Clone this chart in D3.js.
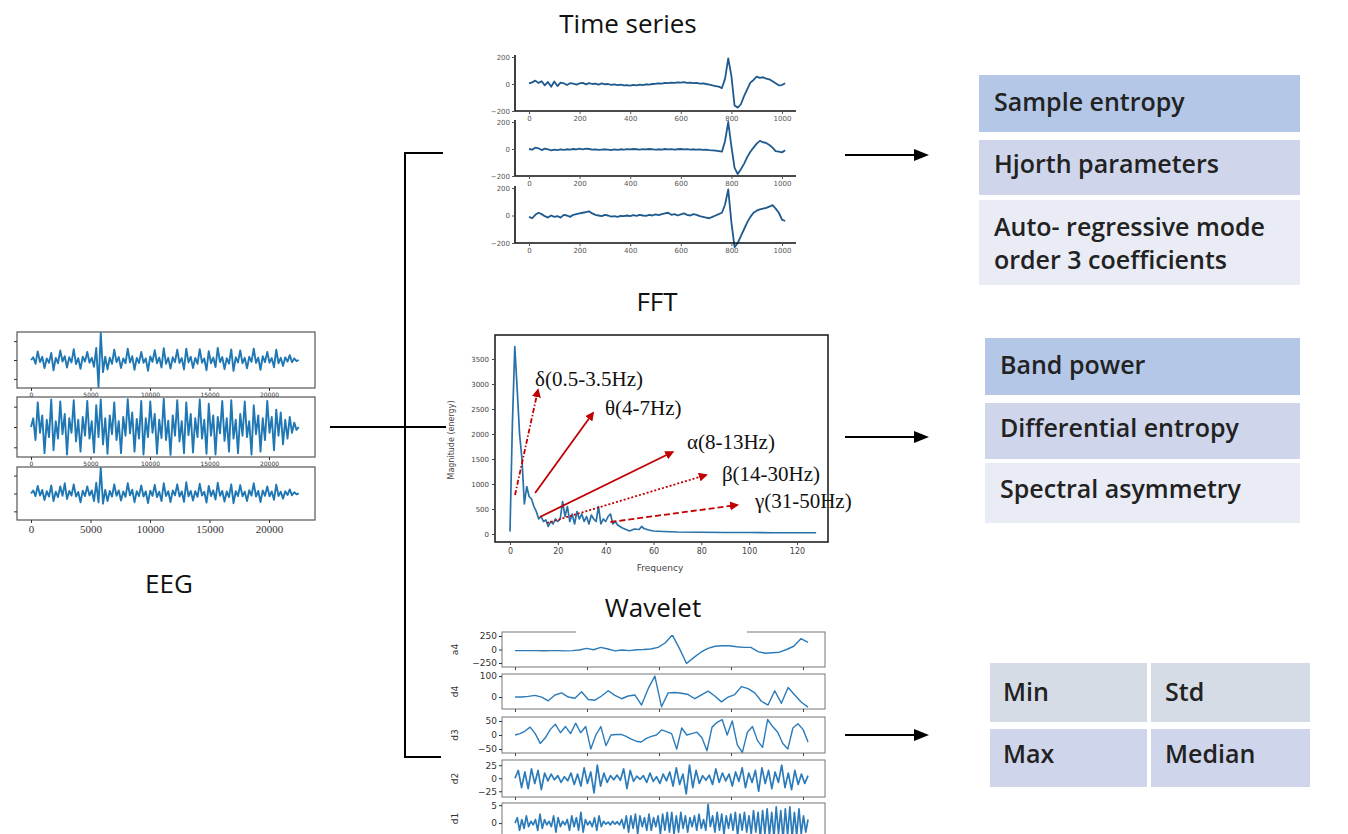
<!DOCTYPE html>
<html>
<head>
<meta charset="utf-8">
<script src="https://d3js.org/d3.v7.min.js"></script>
<style>
  body { margin: 0; background: #fff; }
  text { font-family: "Open Sans", sans-serif; }
</style>
</head>
<body>
<div id="chart"></div>
<script>
// ---------- data ----------

// raw EEG, three channels (arbitrary units, +-100)
let eeg1 = [0, 10, -14, 32, -8, 12, -30, 6, -10, 26,
  -38, 8, -12, 35, -6, 14, -28, 10, -9, 40,
  -15, 7, -33, 12, -6, 30, -10, 8, -25, 45,
  -100, 100, -45, 12, -35, 9, -14, 38, -8, 11,
  -30, 6, -12, 42, -9, 14, -36, 8, -11, 30,
  -10, 6, -40, 13, -7, 36, -12, 9, -28, 44,
  -14, 8, -32, 10, -8, 38, -11, 7, -35, 42,
  -9, 12, -30, 8, -14, 40, -10, 6, -38, 33,
  -12, 9, -26, 45, -8, 11, -34, 7, -13, 39,
  -40, 10, -9, 35, -12, 8, -31, 12, -7, 42,
  -11, 9, -36, 14, -8, 30, -10, 7, -27, 38,
  -12, 8, -22, 10, -6, 18, -8, 6, -4, 0];
let eeg2 = [0, 30, -45, 85, -20, 40, -90, 25, -35, 95,
  -80, 20, -40, 88, -25, 45, -95, 30, -20, 92,
  -50, 25, -85, 35, -30, 90, -40, 20, -88, 75,
  -35, 95, -60, 30, -92, 40, -25, 85, -45, 20,
  -90, 35, -30, 96, -22, 50, -85, 28, -40, 90,
  -95, 30, -35, 88, -20, 45, -92, 25, -38, 98,
  -45, 22, -96, 40, -30, 92, -50, 20, -90, 85,
  -28, 45, -88, 30, -35, 95, -40, 25, -92, 80,
  -30, 40, -95, 35, -22, 90, -48, 30, -85, 92,
  -40, 25, -90, 45, -30, 88, -35, 20, -95, 75,
  -25, 40, -85, 30, -45, 90, -20, 35, -80, 60,
  -30, 50, -60, 25, -40, 35, -20, 15, -10, 0];
let eeg3 = [0, 12, -10, 30, -8, 14, -26, 9, -12, 32,
  -30, 7, -14, 28, -9, 40, -22, 10, -8, 36,
  -12, 6, -35, 11, -10, 28, -8, 12, -30, 42,
  -35, 100, -40, 14, -30, 10, -12, 36, -9, 12,
  -28, 8, -13, 40, -7, 15, -34, 9, -10, 32,
  -12, 8, -38, 11, -9, 34, -14, 7, -30, 40,
  -10, 9, -34, 12, -7, 36, -12, 8, -33, 44,
  -11, 10, -28, 9, -13, 38, -8, 7, -36, 30,
  -10, 12, -24, 42, -9, 10, -32, 8, -14, 36,
  -38, 9, -10, 33, -11, 7, -30, 13, -8, 40,
  -12, 10, -34, 12, -9, 28, -11, 8, -25, 35,
  -10, 7, -20, 9, -6, 16, -7, 5, -3, 0];
let eegTicks = [0, 5000, 10000, 15000, 20000];

// time series, three channels, samples 0..1012 every 12.5
let ts1 = [5, 12, 25, 8, 20, -10, 15, -20, 18, -15,
  10, 5, -8, 6, 2, -5, 4, 8, -3, 6,
  0, 3, -4, 5, -2, 0, -6, -3, -8, -5,
  -10, -8, -12, -6, -10, -5, -8, -2, -4, 0,
  2, 5, 3, 8, 6, 10, 8, 12, 10, 14,
  8, 10, 6, 8, 3, 4, 0, -5, -10, -15,
  -20, -30, 40, 190, 60, -160, -175, -150, -90, -40,
  10, 30, 55, 45, 50, 40, 35, 20, 5, -10,
  -8, 5];
let ts2 = [0, -5, 10, 5, -8, 3, -2, -10, -5, -8,
  -3, -6, -2, -4, 0, -3, 2, -2, 3, 0,
  -5, -3, -6, -4, -2, -5, -8, -3, -6, -2,
  -4, -1, -3, 0, -2, -4, -1, -3, 0, -2,
  -5, -2, -4, 0, -3, -1, -4, -2, 0, -3,
  -1, -4, -2, -5, -3, -6, -4, -8, -10, -12,
  -15, -20, 60, 200, 20, -140, -185, -150, -110, -60,
  -20, 10, 40, 60, 50, 45, 30, 10, -15, -20,
  -25, -10];
let ts3 = [-10, -20, 5, 20, 10, -5, -15, 0, -10, -5,
  -15, 5, 0, -10, 5, 10, 15, 20, 25, 30,
  15, 5, 0, -5, 5, 0, -8, -5, -10, -2,
  -5, 0, -5, 2, -3, 5, 0, -3, 5, 0,
  8, 2, 10, 15, 20, 5, 10, 0, 8, 15,
  5, 0, 10, 5, -5, -10, -15, -20, -10, 0,
  10, 20, 80, 190, -50, -230, -200, -150, -100, -50,
  -10, 20, 35, 45, 50, 55, 65, 75, 50, 20,
  -30, -40];
let tsTicksX = [0, 200, 400, 600, 800, 1000];
let tsTicksY = [-200, 0, 200];

// FFT spectrum
let fftFreq = [0, 1, 2, 3, 4, 5, 6, 7, 8, 9, 10, 11, 12, 13, 14, 15, 16, 17, 18, 19,
  20, 21, 22, 23, 24, 25, 26, 27, 28, 29, 30, 31, 32, 33, 34, 35, 36, 37, 38, 39,
  40, 41, 42, 43, 44, 45, 46, 47, 48, 50, 52, 54, 55, 56, 58, 60, 64, 70, 80, 90,
  100, 110, 120, 128];
let fftMag = [50, 2200, 3750, 2900, 2000, 1500, 600, 950, 750, 700, 550, 450, 300, 350, 250, 280, 150, 250, 200, 300,
  250, 300, 650, 350, 550, 250, 400, 200, 450, 300, 400, 250, 350, 200, 380, 300, 250, 550, 200, 300,
  250, 350, 400, 200, 250, 180, 150, 120, 100, 60, 100, 90, 150, 110, 80, 60, 50, 40, 35, 30,
  30, 25, 25, 25];
let fftTicksX = [0, 20, 40, 60, 80, 100, 120];
let fftTicksY = [0, 500, 1000, 1500, 2000, 2500, 3000, 3500];
let bandLabels = ["δ(0.5-3.5Hz)", "θ(4-7Hz)", "α(8-13Hz)", "β(14-30Hz)", "γ(31-50Hz)"];

// wavelet decomposition (approximation a4, details d4..d1)
let waveA4 = [-20, -20, -20, -20, -22, -20, -20, -25, -20, -10,
  20, -5, 40, 10, -25, -10, -20, -5, 0, 10,
  40, 120, 270, 20, -260, -150, -50, 20, 60, 70,
  70, 50, 40, 40, -40, -70, -60, -50, 0, 60,
  200, 130];
let waveD4 = [0, 0, 3, 8, 0, -18, 10, 20, 0, -6,
  25, -12, -15, 5, 30, 8, -8, 5, 10, -38,
  40, 100, -46, 20, 22, 18, 12, -8, 10, 28,
  5, -23, 0, 12, 50, 40, 20, -20, -38, 30,
  -30, 46, 10, -25, -48];
let waveD3 = [0, 5, 14, 28, 5, -30, -10, 20, 38, 8,
  30, 5, 42, 8, 30, -50, 0, 30, -38, 0,
  2, 2, -5, -15, -22, -25, -12, -5, 0, 18,
  12, 5, -50, 25, 0, 5, 10, -10, -56, 28,
  45, 55, 0, 50, -35, -62, 10, 30, -20, -44,
  55, 30, 10, -30, -50, 25, 40, 20, -25];
let waveD2 = [0, 15, -18, 12, -20, 18, -10, 15, -22, 10,
  -5, 8, -3, 5, -8, 3, -5, 10, -12, 8,
  -15, 20, -10, 12, -28, 25, -15, 10, -8, 5,
  -3, 6, -4, 18, -20, 15, -6, 4, -2, 5,
  -8, 10, -6, 3, -10, 8, -5, 12, -15, 20,
  -12, 8, -30, 25, -18, 15, -10, 5, -4, 6,
  -12, 18, -8, 10, -5, 8, -15, 12, -6, 20,
  -18, 10, -8, 15, -25, 20, -10, 15, -20, 12,
  -8, 25, -18, 10, -22, 15, -12, 8, -10, 5];
let waveD1 = [0, 1.5, -2, 1, -1.5, 2, -1, 0.5, -0.5, 1,
  -2, 2.5, -1.5, 1, -0.5, 0.5, -1, 2, -2.5, 1.5,
  -1, 0.5, -0.5, 1, -2, 2, -1, 1.5, -2, 3,
  -2.5, 1, -0.5, 0.5, -1, 1.5, -2, 2, -1, 0.5,
  -0.3, 0.3, -0.5, 0.5, -0.3, 0.4, -0.5, 1, -1.5, 2,
  -2.5, 2, -1.5, 2.5, -3, 2, -1, 1.5, -2, 2.5,
  -2, 1.5, -1, 2, -3, 2.5, -2, 3, -2.5, 3,
  -3, 2, -2.5, 3, -1.5, 2, -2.5, 1.5, -1, 2,
  -2, 2.5, -1.5, 1, -2, 5.2, -1, 2, -2.5, 3,
  -2, 2.5, -3, 2, -1.5, 2.5, -2, 3, -3.5, 2.5,
  -2, 3, -2.5, 2, -3, 3.5, -2.5, 3, -4, 3.5,
  -3, 4, -3.5, 3, -4, 4.5, -3, 3.5, -4.5, 4,
  -3.5, 4.5, -4, 3, -3.5, 4, -3, 2, -2.5, 1];
let waveNames = ["a4", "d4", "d3", "d2", "d1"];

// feature boxes
let tsFeatures = ["Sample entropy", "Hjorth parameters", "Auto- regressive mode|order 3 coefficients"];
let fftFeatures = ["Band power", "Differential entropy", "Spectral asymmetry"];
let waveFeatures = [["Min", "Std"], ["Max", "Median"]];

// ---------- drawing ----------
let svgWidth = 1348;
let svgHeight = 834;
let plain = d3.format("d");

let svg = d3.select("#chart")
  .append("svg")
  .attr("width", svgWidth)
  .attr("height", svgHeight);

svg.append("defs").append("marker")
  .attr("id", "redHead")
  .attr("viewBox", "0 0 10 10")
  .attr("refX", 8).attr("refY", 5)
  .attr("markerWidth", 5).attr("markerHeight", 5)
  .attr("orient", "auto")
  .append("path")
  .attr("d", "M0,0 L10,5 L0,10 Z")
  .attr("fill", "#c00000");

// small helper: style a d3 axis
function styleAxis(g, size, color) {
  g.selectAll(".domain").remove();
  g.selectAll("line").attr("stroke", color);
  g.selectAll("text")
    .attr("fill", color)
    .style("font-size", size + "px")
    .style("font-family", "'DejaVu Sans', sans-serif");
}

// line path where x comes from the sample index
function indexLine(g, values, x, y, xMax, color, width) {
  let n = values.length;
  let line = d3.line()
    .x((d, i) => x(i * xMax / (n - 1)))
    .y(d => y(d));
  g.append("path")
    .datum(values)
    .attr("d", line)
    .attr("fill", "none")
    .attr("stroke", color)
    .attr("stroke-width", width)
    .attr("stroke-linejoin", "round");
}

// connectors
let conn = svg.append("g").attr("stroke", "#000").attr("stroke-width", 2).attr("fill", "none");
conn.append("path").attr("d", "M330,427 H446");
conn.append("path").attr("d", "M405,153 V757");
conn.append("path").attr("d", "M404,153 H443");
conn.append("path").attr("d", "M404,757 H441");

[155, 437, 735].forEach(function(yy) {
  conn.append("path").attr("d", `M845,${yy} H916`);
  svg.append("path")
    .attr("d", `M914,${yy - 6} L929,${yy} L914,${yy + 6} Z`)
    .attr("fill", "#000");
});

// titles
let titles = [["Time series", 628, 33], ["FFT", 657, 311], ["Wavelet", 653, 617], ["EEG", 169, 593]];
titles.forEach(function(t) {
  svg.append("text")
    .attr("x", t[1]).attr("y", t[2])
    .attr("text-anchor", "middle")
    .style("font-size", "26px")
    .attr("fill", "#111")
    .text(t[0]);
});

// ---------- EEG ----------
let eegX = d3.scaleLinear().domain([0, 20000]).range([31, 269]);
let eegPanels = [
  { data: eeg1, top: 332, bottom: 388, font: 6 },
  { data: eeg2, top: 397, bottom: 457, font: 6 },
  { data: eeg3, top: 467, bottom: 520, font: 11 }
];
eegPanels.forEach(function(p) {
  let g = svg.append("g");
  let y = d3.scaleLinear().domain([-100, 100]).range([p.bottom - 1, p.top + 1]);
  g.append("rect")
    .attr("x", 17).attr("y", p.top)
    .attr("width", 298).attr("height", p.bottom - p.top)
    .attr("fill", "none").attr("stroke", "#555").attr("stroke-width", 1.2);
  indexLine(g, p.data, eegX, y, 22500, "#1f77b4", 1.9);
  let xa = g.append("g")
    .attr("transform", `translate(0, ${p.bottom})`)
    .call(d3.axisBottom(eegX).tickValues(eegTicks).tickFormat(plain).tickSize(3).tickPadding(2));
  styleAxis(xa, p.font, "#333");
  if (p.font > 8) xa.selectAll("text").style("font-family", "'Liberation Serif', serif");
  let ya = g.append("g")
    .attr("transform", "translate(17, 0)")
    .call(d3.axisLeft(y).tickValues([-70, 0, 70]).tickSize(3).tickFormat(""));
  styleAxis(ya, 6, "#333");
});

// ---------- Time series ----------
let tsX = d3.scaleLinear().domain([0, 1000]).range([529, 782]);
let tsPanels = [
  { data: ts1, top: 57, bottom: 111 },
  { data: ts2, top: 122, bottom: 176 },
  { data: ts3, top: 188, bottom: 243 }
];
tsPanels.forEach(function(p) {
  let g = svg.append("g");
  let y = d3.scaleLinear().domain([-200, 200]).range([p.bottom, p.top]);
  indexLine(g, p.data, tsX, y, 1012.5, "#1f5a8f", 1.8);
  g.append("path")
    .attr("d", `M515,${p.top - 2} V${p.bottom} H796`)
    .attr("fill", "none").attr("stroke", "#111").attr("stroke-width", 1.6);
  let xa = g.append("g")
    .attr("transform", `translate(0, ${p.bottom})`)
    .call(d3.axisBottom(tsX).tickValues(tsTicksX).tickFormat(plain).tickSize(3).tickPadding(2));
  styleAxis(xa, 7, "#555");
  let ya = g.append("g")
    .attr("transform", "translate(515, 0)")
    .call(d3.axisLeft(y).tickValues(tsTicksY).tickFormat(plain).tickSize(3).tickPadding(2));
  styleAxis(ya, 7, "#555");
});

// ---------- FFT ----------
let fx = d3.scaleLinear().domain([0, 120]).range([510, 797]);
let fy = d3.scaleLinear().domain([0, 3500]).range([534, 359]);
let fg = svg.append("g");
fg.append("rect")
  .attr("x", 495).attr("y", 335).attr("width", 333).attr("height", 207)
  .attr("fill", "none").attr("stroke", "#222").attr("stroke-width", 1.6);
fg.append("path")
  .datum(fftFreq.map((f, i) => [f, fftMag[i]]))
  .attr("d", d3.line().x(d => fx(d[0])).y(d => fy(d[1])))
  .attr("fill", "none")
  .attr("stroke", "#2870a8")
  .attr("stroke-width", 1.7)
  .attr("stroke-linejoin", "round");
let fxa = fg.append("g")
  .attr("transform", "translate(0, 542)")
  .call(d3.axisBottom(fx).tickValues(fftTicksX).tickFormat(plain).tickSize(3).tickPadding(3));
styleAxis(fxa, 8, "#444");
let fya = fg.append("g")
  .attr("transform", "translate(495, 0)")
  .call(d3.axisLeft(fy).tickValues(fftTicksY).tickFormat(plain).tickSize(3).tickPadding(3));
styleAxis(fya, 7, "#444");
fg.append("text")
  .attr("transform", "translate(454, 440) rotate(-90)")
  .attr("text-anchor", "middle")
  .style("font-size", "8px")
  .style("font-family", "'DejaVu Sans', sans-serif")
  .attr("fill", "#444")
  .text("Magnitude (energy)");
fg.append("text")
  .attr("x", 660).attr("y", 571)
  .attr("text-anchor", "middle")
  .style("font-size", "9px")
  .style("font-family", "'DejaVu Sans', sans-serif")
  .attr("fill", "#444")
  .text("Frequency");

// band arrows: [start f, start mag, end f, end mag, dash]
let bandArrows = [
  [2.1, 780, 11.7, 2880, "5,2,1.5,2"],
  [10.5, 820, 34.7, 2420, null],
  [12.5, 340, 68, 1640, null],
  [15.5, 220, 82, 1180, "2,2"],
  [42, 240, 95, 580, "6,3"]
];
// label anchors [f, mag]
let bandLabelPos = [[10.5, 2960], [39.7, 2380], [74, 1700], [88.6, 1060], [102.4, 520]];

bandArrows.forEach(function(a) {
  fg.append("line")
    .attr("x1", fx(a[0])).attr("y1", fy(a[1]))
    .attr("x2", fx(a[2])).attr("y2", fy(a[3]))
    .attr("stroke", "#c00000")
    .attr("stroke-width", 1.8)
    .attr("stroke-dasharray", a[4])
    .attr("marker-end", "url(#redHead)");
});
bandLabels.forEach(function(lbl, i) {
  fg.append("text")
    .attr("x", fx(bandLabelPos[i][0]))
    .attr("y", fy(bandLabelPos[i][1]))
    .style("font-family", "'Liberation Serif', 'Times New Roman', serif")
    .style("font-size", "21px")
    .attr("fill", "#111")
    .text(lbl);
});

// ---------- Wavelet ----------
let wx = d3.scaleLinear().domain([0, 400]).range([515, 803]);
let wavePanels = [
  { data: waveA4, top: 632, bottom: 667, dom: [-324, 324], ticks: [-250, 0, 250] },
  { data: waveD4, top: 674, bottom: 709, dom: [-57, 110], ticks: [0, 100] },
  { data: waveD3, top: 717, bottom: 753, dom: [-64, 64], ticks: [-50, 0, 50] },
  { data: waveD2, top: 760, bottom: 797, dom: [-36, 35], ticks: [-25, 0, 25] },
  { data: waveD1, top: 803, bottom: 850, dom: [-7.5, 5.6], ticks: [0, 5] }
];
wavePanels.forEach(function(p, k) {
  let g = svg.append("g");
  let y = d3.scaleLinear().domain(p.dom).range([p.bottom, p.top]);
  g.append("rect")
    .attr("x", 502).attr("y", p.top)
    .attr("width", 323).attr("height", p.bottom - p.top)
    .attr("fill", "none").attr("stroke", "#777").attr("stroke-width", 1);
  indexLine(g, p.data, wx, y, 407, "#2b7bba", k > 2 ? 1.7 : 1.4);
  let xa = g.append("g")
    .attr("transform", `translate(0, ${p.bottom})`)
    .call(d3.axisBottom(wx).ticks(5).tickSize(3).tickFormat(""));
  styleAxis(xa, 7, "#444");
  let ya = g.append("g")
    .attr("transform", "translate(502, 0)")
    .call(d3.axisLeft(y).tickValues(p.ticks).tickSize(3).tickPadding(2));
  styleAxis(ya, 9, "#333");
  g.append("text")
    .attr("transform", `translate(458, ${(p.top + Math.min(p.bottom, 834)) / 2}) rotate(-90)`)
    .attr("text-anchor", "middle")
    .style("font-size", "9px")
    .style("font-family", "'DejaVu Sans', sans-serif")
    .attr("fill", "#333")
    .text(waveNames[k]);
});
// the title box hides part of the first panel's top border
svg.append("rect")
  .attr("x", 576).attr("y", 628).attr("width", 171).attr("height", 7)
  .attr("fill", "#fff");

// ---------- feature boxes ----------
function featureColumn(items, colors, x0, x1, rows, textX) {
  items.forEach(function(item, i) {
    svg.append("rect")
      .attr("x", x0).attr("y", rows[i][0])
      .attr("width", x1 - x0).attr("height", rows[i][1] - rows[i][0])
      .attr("fill", colors[i]);
    let lines = item.split("|");
    let t = svg.append("text")
      .attr("x", textX)
      .style("font-size", "25px")
      .style("font-weight", 600)
      .attr("fill", "#222");
    lines.forEach(function(ln, j) {
      t.append("tspan")
        .attr("x", textX)
        .attr("y", rows[i][2] + j * 33)
        .text(ln);
    });
  });
}

featureColumn(tsFeatures, ["#b4c7e7", "#cfd5ea", "#e9ebf5"], 979, 1300,
  [[75, 132, 111], [140, 195, 173], [200, 285, 236]], 994);
featureColumn(fftFeatures, ["#b4c7e7", "#cfd5ea", "#e9ebf5"], 985, 1300,
  [[338, 395, 374], [403, 459, 437], [463, 523, 498]], 1000);

let gridRows = [[663, 722, 701], [729, 787, 763]];
let gridCols = [[990, 1147, 1003], [1151, 1310, 1165]];
let gridColors = ["#d6dce5", "#cfd5ea"];
waveFeatures.forEach(function(row, r) {
  row.forEach(function(lbl, c) {
    svg.append("rect")
      .attr("x", gridCols[c][0]).attr("y", gridRows[r][0])
      .attr("width", gridCols[c][1] - gridCols[c][0])
      .attr("height", gridRows[r][1] - gridRows[r][0])
      .attr("fill", gridColors[r]);
    svg.append("text")
      .attr("x", gridCols[c][2]).attr("y", gridRows[r][2])
      .style("font-size", "25px")
      .style("font-weight", 600)
      .attr("fill", "#222")
      .text(lbl);
  });
});
</script>
</body>
</html>
